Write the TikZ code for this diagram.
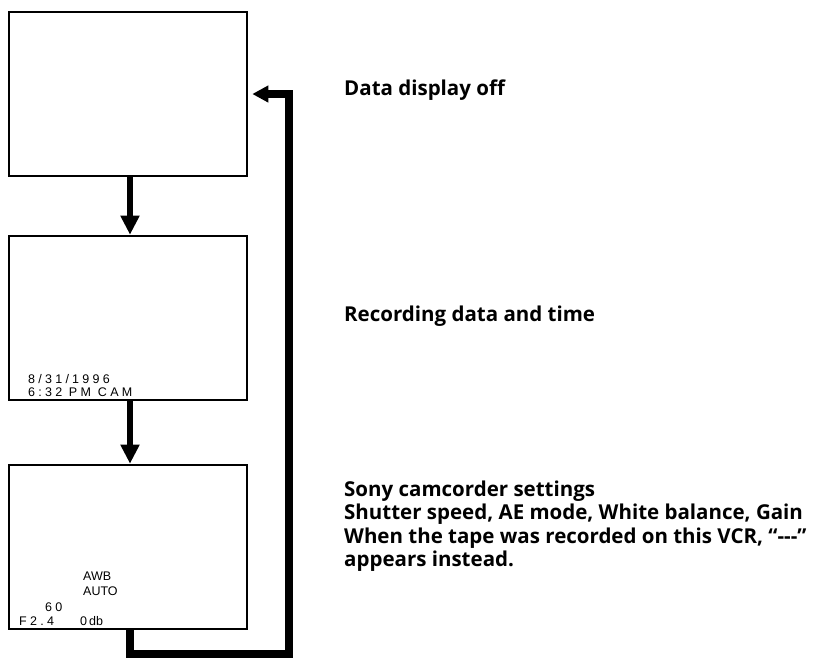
\documentclass[tikz,border=0pt]{standalone}
\usepackage{fontspec}
\setmainfont{Open Sans}
\newfontfamily\osdfont{Liberation Sans}
\newfontfamily\osdwide[LetterSpace=26]{Liberation Sans}
\usepackage{xcolor}
\usetikzlibrary{arrows.meta,calc}
\definecolor{ink}{HTML}{000000}
\tikzset{
  screen/.style={draw=ink, fill=white, line width=2.6pt, minimum width=238pt, minimum height=164pt, inner sep=0pt},
  flowdown/.style={draw=ink, line width=6pt, -{Triangle[length=19pt,width=18pt]}},
  flowback/.style={draw=ink, line width=7.5pt, line join=miter, -{Triangle[length=16pt,width=16pt]}},
  osd/.style={inner sep=0pt, anchor=base west, font=\osdfont\fontsize{12.5}{14}\selectfont, text=ink},
  osdw/.style={osd, font=\osdwide\fontsize{12.5}{14}\selectfont},
  tl/.style={inner sep=0pt, anchor=base west, font=\fontsize{20.5}{24}\selectfont\bfseries, text=ink},
}
\begin{document}
\begin{tikzpicture}[x=1pt, y=-1pt]
  \useasboundingbox (0,0) rectangle (815,657);

  % three screens
  \node[screen] (off) at (128,94) {};
  \node[screen] (rec) at (128,318) {};
  \node[screen] (cam) at (128,547) {};

  \node[osdw] (date) at (28,383) {8/31/1996};
  \node[osdw] (time) at (28,396) {6:32 PM\hspace{7pt}CAM};

  \node[osd] (awb) at (83,580) {AWB};
  \node[osd] (auto) at (83,595) {AUTO};
  \node[osdw] (shut) at (45,611) {60};
  \node[osdw] (iris) at (19,625) {F2.4};
  \node[osd] (gain) at (80,625) {0\hspace{2pt}db};

  % sequence and return loop
  \draw[flowdown] ([xshift=2pt]off.south) -- ([xshift=2pt]rec.north);
  \draw[flowdown] ([xshift=2pt]rec.south) -- ([xshift=2pt]cam.north);
  \coordinate (turn) at (289,654);
  \draw[flowback, shorten >=4pt] ([xshift=2pt]cam.south) |- (turn) |- (off.east);

  % descriptions
  \node[tl] (offlab) at (344,95) {Data display off};
  \node[tl] (reclab) at (344,321) {Recording data and time};
  \foreach \y/\txt [count=\i] in {
      496/Sony camcorder settings,
      519.5/{Shutter speed, AE mode, White balance, Gain},
      543/{When the tape was recorded on this VCR, “-{}-{}-”},
      566.5/appears instead.} {
    \node[tl] (camlab\i) at (344,\y) {\txt};
  }
\end{tikzpicture}
\end{document}
